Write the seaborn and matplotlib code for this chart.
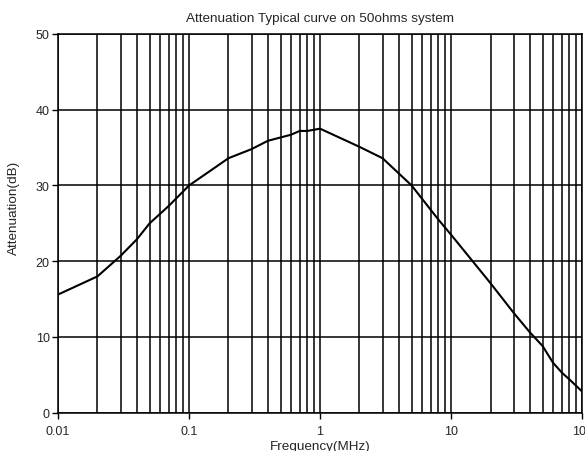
import pandas as pd
import seaborn as sns
import matplotlib.pyplot as plt
from matplotlib.ticker import LogLocator, FixedLocator, NullFormatter

# Data
freq_mhz = [0.01, 0.02, 0.03, 0.04, 0.05, 0.07, 0.1, 0.2, 0.3, 0.4, 0.6, 0.7,
            0.8, 1, 2, 3, 5, 8, 10, 20, 30, 40, 50, 60, 70, 80, 100]
atten_db = [15.6, 18.0, 20.7, 22.9, 25.0, 27.3, 30.0, 33.6, 34.8, 35.9, 36.7, 37.2,
            37.2, 37.5, 35.1, 33.6, 30.0, 25.5, 23.5, 17.1, 13.2, 10.6, 8.8, 6.6, 5.3, 4.4, 2.8]
x_ticks = [0.01, 0.1, 1, 10, 100]
x_tick_labels = ['0.01', '0.1', '1', '10', '100']
y_ticks = [0, 10, 20, 30, 40, 50]

df = pd.DataFrame({'Frequency': freq_mhz, 'Attenuation': atten_db})

sns.set_style('white')
plt.rcParams['font.family'] = ['Liberation Sans', 'DejaVu Sans']

fig = plt.figure(figsize=(5.85, 4.52), dpi=100)
ax = fig.add_axes([0.0992, 0.0847, 0.8958, 0.8379])

sns.lineplot(data=df, x='Frequency', y='Attenuation', color='black', lw=1.5, ax=ax)

ax.set_xscale('log')
ax.set_xlim(0.01, 100)
ax.set_ylim(0, 50)

ax.xaxis.set_major_locator(FixedLocator(x_ticks))
ax.set_xticklabels(x_tick_labels)
ax.xaxis.set_minor_locator(LogLocator(base=10, subs=range(2, 10)))
ax.xaxis.set_minor_formatter(NullFormatter())
ax.set_yticks(y_ticks)

ax.grid(which='both', axis='both', color='black', lw=1.1)
ax.tick_params(axis='both', which='major', direction='out', length=4, width=1,
               color='black', labelsize=9, pad=2, bottom=True, left=True)
ax.tick_params(axis='x', which='major', pad=5)
ax.tick_params(axis='x', which='minor', length=0)

for s in ax.spines.values():
    s.set_color('black')
    s.set_linewidth(1.1)

ax.set_title('Attenuation Typical curve on 50ohms system', fontsize=9.7, pad=9)
ax.set_xlabel('Frequency(MHz)', fontsize=9.7)
ax.set_ylabel('Attenuation(dB)', fontsize=9.7)
ax.xaxis.set_label_coords(0.5, -0.072)
ax.yaxis.set_label_coords(-0.072, 0.543)

plt.savefig('out.png', dpi=100)
